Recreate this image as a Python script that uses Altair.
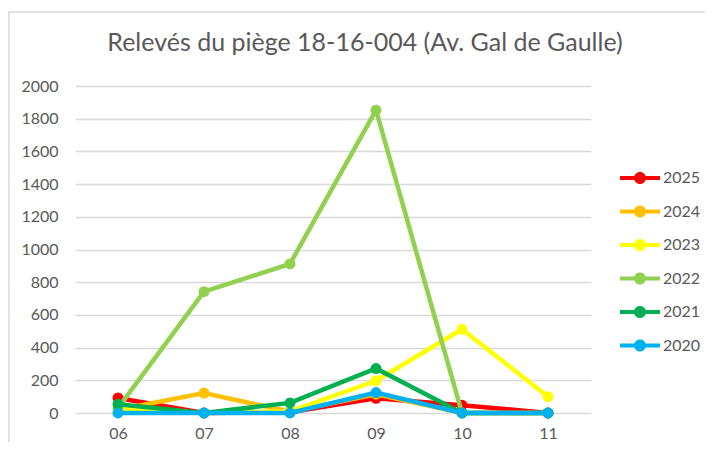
import altair as alt
import pandas as pd

months = ["06", "07", "08", "09", "10", "11"]
years = ["2025", "2024", "2023", "2022", "2021", "2020"]
colors = ["#FF0000", "#FFC000", "#FFFF00", "#92D050", "#00B050", "#00B0F0"]

v2025 = [92, 0, 5, 90, 48, 0]
v2024 = [20, 122, 8, 115, 0, 0]
v2023 = [25, 0, 10, 197, 512, 100]
v2022 = [30, 742, 912, 1852, 0, 0]
v2021 = [53, 0, 62, 272, 0, 0]
v2020 = [0, 0, 0, 125, 0, 0]

series = [v2025, v2024, v2023, v2022, v2021, v2020]
rows = []
for y, vals in zip(years, series):
    for m, v in zip(months, vals):
        rows.append({"Mois": m, "Année": y, "Valeur": v})
df = pd.DataFrame(rows)

FONT = "Lato"
GRAY = "#595959"

line_symbol = (
    "M-2,-0.2H-0.5V0.2H-2Z "
    "M0.5,-0.2H2V0.2H0.5Z "
    "M-0.6,0A0.6,0.6 0 1,1 0.6,0A0.6,0.6 0 1,1 -0.6,0Z"
)

color = alt.Color(
    "Année:N",
    scale=alt.Scale(domain=years, range=colors),
    sort=years,
    legend=alt.Legend(
        title=None,
        orient="none",
        legendX=555,
        legendY=82,
        symbolType=line_symbol,
        symbolSize=400,
        symbolStrokeWidth=0,
        labelOffset=13,
        labelFont=FONT,
        labelFontSize=16,
        labelColor=GRAY,
        rowPadding=15.5,
        padding=0,
    ),
)

x = alt.X(
    "Mois:N",
    sort=months,
    scale=alt.Scale(paddingInner=0, paddingOuter=0),
    axis=alt.Axis(
        title=None,
        labelAngle=0,
        labelFont=FONT,
        labelFontSize=16,
        labelColor=GRAY,
        labelPadding=12,
        ticks=False,
        domain=False,
        grid=False,
    ),
)
y = alt.Y(
    "Valeur:Q",
    scale=alt.Scale(domain=[0, 2000], nice=False),
    axis=alt.Axis(
        title=None,
        values=list(range(0, 2001, 200)),
        format="d",
        labelFont=FONT,
        labelFontSize=16,
        labelColor=GRAY,
        labelPadding=17,
        ticks=False,
        domain=False,
        gridColor="#D9D9D9",
        gridWidth=1.5,
    ),
)

frame = alt.Chart(pd.DataFrame({"k": [0]})).mark_rect(
    fill=None, stroke="#D9D9D9", strokeWidth=1.5
).encode(
    x=alt.value(-66), x2=alt.value(650), y=alt.value(-74), y2=alt.value(380)
)

layers = [frame]
for yv in years:
    sub = df[df["Année"] == yv]
    layers.append(
        alt.Chart(sub).mark_line(strokeWidth=4.5).encode(x=x, y=y, color=color)
    )
    layers.append(
        alt.Chart(sub).mark_circle(size=120, opacity=1).encode(x=x, y=y, color=color)
    )

chart = alt.layer(*layers).properties(
    width=516,
    height=327,
    autosize=alt.AutoSizeParams(type="none"),
    padding={"left": 67, "top": 78, "right": 114, "bottom": 29},
    title=alt.TitleParams(
        "Relevés du piège 18-16-004 (Av. Gal de Gaulle)",
        font=FONT,
        fontSize=25,
        fontWeight="normal",
        color=GRAY,
        anchor="middle",
        dx=32,
        offset=-45,
    ),
).configure_view(stroke=None)

chart.save("out.html", embed_options={"renderer": "svg", "actions": False})
